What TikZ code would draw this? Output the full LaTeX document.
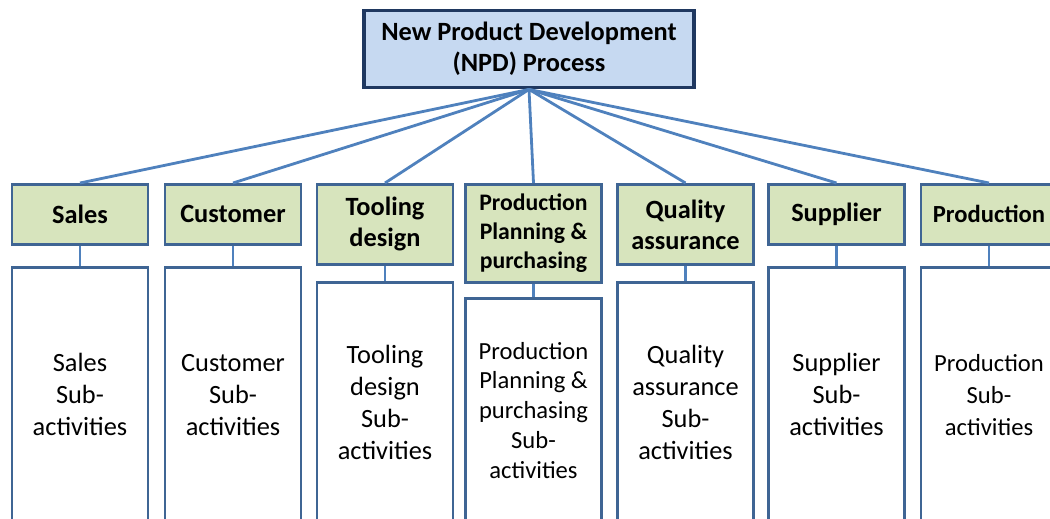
\documentclass[tikz,border=0pt]{standalone}
\usepackage{fontspec}
\setmainfont{Carlito}
\usepackage{tikz}

\definecolor{npdfill}{RGB}{198,217,241}
\definecolor{npdline}{RGB}{31,56,96}
\definecolor{grpfill}{RGB}{215,228,189}
\definecolor{grpline}{RGB}{63,101,148}
\definecolor{linkblue}{RGB}{79,129,189}

\begin{document}
\begin{tikzpicture}[x=0.02cm,y=-0.02cm,
  topbox/.style={draw=npdline, line width=2.2pt, fill=npdfill, align=center,
    minimum width=6.6cm, minimum height=1.54cm, inner sep=0pt,
    font=\fontsize{15}{17.6}\selectfont\bfseries},
  grpbox/.style={draw=grpline, line width=1.6pt, fill=grpfill, align=center,
    anchor=north, minimum width=2.72cm, inner sep=0pt,
    font=\fontsize{15}{17.6}\selectfont\bfseries},
  subbox/.style={draw=grpline, line width=1.6pt, fill=white, align=center,
    anchor=north, minimum width=2.72cm, inner sep=0pt,
    font=\fontsize{15}{18.2}\selectfont},
  link/.style={draw=linkblue, line width=1.6pt}]
\useasboundingbox (0,0) rectangle (1050,519);
\clip (0,0) rectangle (1050,519);

% top of the tree
\node[topbox] (npd) at (529,49) {New Product Development\\(NPD) Process};

% second level
\node[grpbox, minimum height=1.2cm] (sales) at (80,183) {Sales};
\node[grpbox, minimum height=1.2cm] (customer) at (233,183) {Customer};
\node[grpbox, minimum height=1.6cm] (tooling) at (385,183) {Tooling\\design};
\node[grpbox, minimum height=1.96cm, font=\fontsize{13.5}{16.4}\selectfont\bfseries] (planning) at (533.5,183) {Production\\Planning \&\\purchasing};
\node[grpbox, minimum height=1.6cm] (quality) at (685.5,183) {Quality\\assurance};
\node[grpbox, minimum height=1.2cm] (supplier) at (836.5,183) {Supplier};
\node[grpbox, minimum height=1.2cm, font=\fontsize{14}{17}\selectfont\bfseries] (production) at (989,183) {Production};

% sub-activity boxes (run off the bottom edge)
\node[subbox, minimum height=5.1cm] (salessub) at (80,266) {Sales\\Sub-\\activities};
\node[subbox, minimum height=5.1cm] (customersub) at (233,266) {Customer\\Sub-\\activities};
\node[subbox, minimum height=4.8cm] (toolingsub) at (385,281) {Tooling\\design\\Sub-\\activities};
\node[subbox, minimum height=4.48cm, font=\fontsize{14}{17}\selectfont] (planningsub) at (533.5,297) {Production\\Planning \&\\purchasing\\Sub-\\activities};
\node[subbox, minimum height=4.8cm] (qualitysub) at (685.5,281) {Quality\\assurance\\Sub-\\activities};
\node[subbox, minimum height=5.1cm] (suppliersub) at (836.5,266) {Supplier\\Sub-\\activities};
\node[subbox, minimum height=5.1cm, font=\fontsize{14}{18.2}\selectfont] (productionsub) at (989,266) {Production\\Sub-\\activities};

% fan out from the top box
\draw[link] (npd.south) -- (sales.north);
\draw[link] (npd.south) -- (customer.north);
\draw[link] (npd.south) -- (tooling.north);
\draw[link] (npd.south) -- (planning.north);
\draw[link] (npd.south) -- (quality.north);
\draw[link] (npd.south) -- (supplier.north);
\draw[link] (npd.south) -- (production.north);

% group to its sub-activities
\draw[link] (sales.south) -- (salessub.north);
\draw[link] (customer.south) -- (customersub.north);
\draw[link] (tooling.south) -- (toolingsub.north);
\draw[link] (planning.south) -- (planningsub.north);
\draw[link] (quality.south) -- (qualitysub.north);
\draw[link] (supplier.south) -- (suppliersub.north);
\draw[link] (production.south) -- (productionsub.north);
\end{tikzpicture}
\end{document}
